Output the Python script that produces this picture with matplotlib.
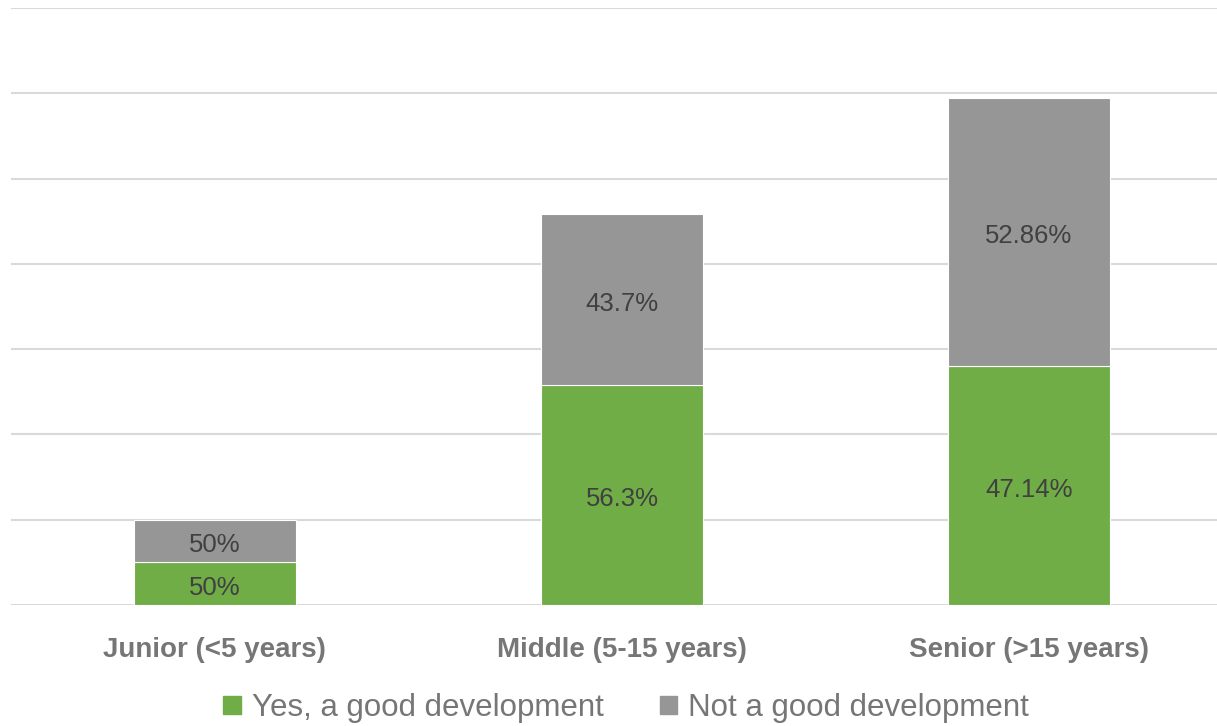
import numpy as np
import matplotlib.pyplot as plt
import matplotlib.transforms as mtransforms
from matplotlib.patches import Patch

categories = ['Junior (<5 years)', 'Middle (5-15 years)', 'Senior (>15 years)']
yes_values = [0.5, 2.58, 2.80]
not_values = [0.5, 2.00, 3.14]
yes_labels = ['50%', '56.3%', '47.14%']
not_labels = ['50%', '43.7%', '52.86%']
series_names = ['Yes, a good development', 'Not a good development']

green = '#70AD47'
grey = '#969696'
text_dark = '#404040'
text_grey = '#767676'

fig = plt.figure(figsize=(12.17, 7.26), dpi=100)
ax = fig.add_axes([11 / 1217, 121 / 726, 1206 / 1217, 597 / 726])

x = np.arange(len(categories))
w = 0.398
ax.bar(x, yes_values, w, color=green, edgecolor='white', linewidth=0.8, zorder=3)
ax.bar(x, not_values, w, bottom=yes_values, color=grey, edgecolor='white', linewidth=0.8, zorder=3)

# excel centres labels a few pixels lower than matplotlib does
shift = mtransforms.offset_copy(ax.transData, fig=fig, x=0, y=-4, units='dots')
for i in range(len(categories)):
    ax.text(x[i], yes_values[i] / 2, yes_labels[i], ha='center', va='center', transform=shift,
            fontsize=18.5, color=text_dark, family='Liberation Sans', zorder=4)
    ax.text(x[i], yes_values[i] + not_values[i] / 2, not_labels[i], ha='center', va='center',
            transform=shift, fontsize=18.5, color=text_dark, family='Liberation Sans', zorder=4)

ax.set_xlim(-0.501, 2.462)
ax.set_ylim(0, 7)
ax.set_yticks(np.arange(0, 8, 1))
ax.yaxis.grid(True, color='#D9D9D9', linewidth=1.5, zorder=0)
ax.tick_params(left=False, labelleft=False, bottom=False, labelbottom=False)
for s in ax.spines.values():
    s.set_visible(False)

for i, c in enumerate(categories):
    fig.text((11 + (x[i] + 0.501) * 407) / 1217, 1 - 650 / 726, c, ha='center', va='center',
             fontsize=20, fontweight='bold', color=text_grey, family='Liberation Sans')

handles = [Patch(color=green), Patch(color=grey)]
fig.legend(handles, series_names, loc='center', bbox_to_anchor=(626 / 1217, 1 - 708 / 726),
           ncol=2, frameon=False, handlelength=0.55, handleheight=0.55, handletextpad=0.35,
           columnspacing=1.8, prop={'family': 'Liberation Sans', 'size': 22.5}, labelcolor=text_grey)

fig.savefig('out.png', dpi=100)
